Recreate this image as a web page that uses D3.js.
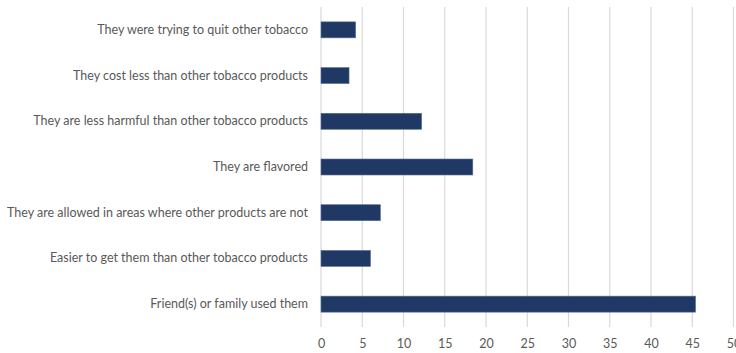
<!DOCTYPE html>
<html>
<head>
<meta charset="utf-8">
<script src="https://cdn.jsdelivr.net/npm/d3@7"></script>
<style>
  html, body { margin: 0; padding: 0; background: #fff; }
  svg { display: block; }
  text { font-family: Lato, "Open Sans", sans-serif; fill: #595959; }
</style>
</head>
<body>
<svg id="chart" width="736" height="353"></svg>
<script>
// Reasons given for using the products (percent of respondents)
const reasons = [
  "They were trying to quit other tobacco",
  "They cost less than other tobacco products",
  "They are less harmful than other tobacco products",
  "They are flavored",
  "They are allowed in areas where other products are not",
  "Easier to get them than other tobacco products",
  "Friend(s) or family used them"
];
const percents = [4.2, 3.4, 12.2, 18.4, 7.2, 6.0, 45.4];
const xTicks = [0, 5, 10, 15, 20, 25, 30, 35, 40, 45, 50];

const svg = d3.select("#chart");
const margin = { left: 321, right: 2, top: 7, bottom: 26 };
const W = 736, H = 353;

const x = d3.scaleLinear().domain([0, 50]).range([margin.left, 733.5]);
const y = d3.scaleBand().domain(reasons).range([margin.top, H - margin.bottom]).paddingInner(0.65).paddingOuter(0.325);

// vertical gridlines
svg.append("g").selectAll("line").data(xTicks).join("line")
  .attr("x1", d => x(d)).attr("x2", d => x(d))
  .attr("y1", margin.top).attr("y2", H - margin.bottom)
  .attr("stroke", "#d9d9d9").attr("stroke-width", 1.2);

// bars
svg.append("g").selectAll("rect").data(percents).join("rect")
  .attr("x", x(0))
  .attr("y", (d, i) => y(reasons[i]))
  .attr("width", d => x(d) - x(0))
  .attr("height", y.bandwidth())
  .attr("fill", "#203864")
  .attr("stroke", "#5a6f95").attr("stroke-width", 0.6);

// x tick labels
const xAxis = d3.axisBottom(x).tickValues(xTicks).tickSize(0).tickPadding(0);
const gx = svg.append("g").attr("transform", `translate(0,${H - margin.bottom})`).call(xAxis);
gx.select(".domain").remove();
gx.selectAll("text").attr("dy", "1.7em").style("font-size", "12.5px")
  .style("font-family", "Lato, 'Open Sans', sans-serif").attr("fill", "#595959");

// category labels
const yAxis = d3.axisLeft(y).tickSize(0).tickPadding(13);
const gy = svg.append("g").attr("transform", `translate(${margin.left},0)`).call(yAxis);
gy.select(".domain").remove();
gy.selectAll("text").style("font-size", "12.5px")
  .style("font-family", "Lato, 'Open Sans', sans-serif").attr("fill", "#595959");
</script>
</body>
</html>
